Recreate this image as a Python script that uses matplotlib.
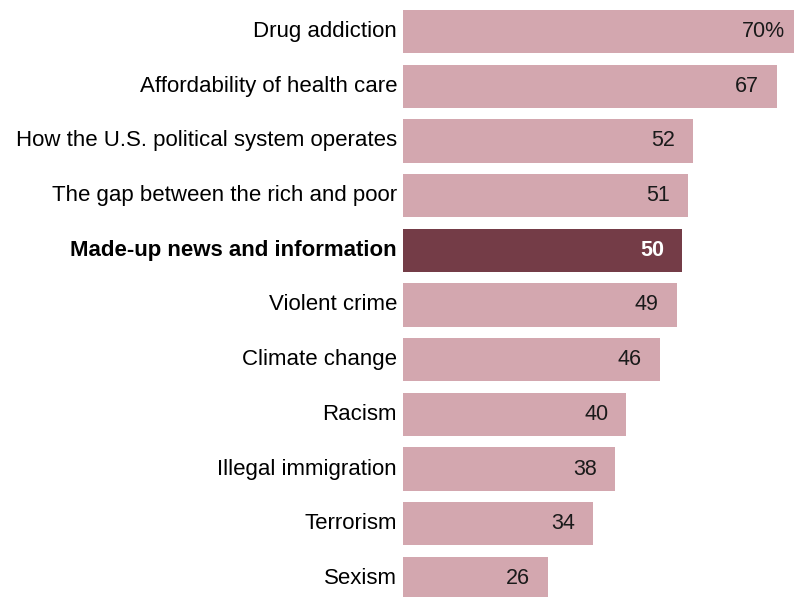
import matplotlib.pyplot as plt

categories = ['Drug addiction', 'Affordability of health care',
              'How the U.S. political system operates',
              'The gap between the rich and poor',
              'Made-up news and information', 'Violent crime',
              'Climate change', 'Racism', 'Illegal immigration',
              'Terrorism', 'Sexism']
values = [70, 67, 52, 51, 50, 49, 46, 40, 38, 34, 26]
highlight = 'Made-up news and information'

light = '#d3a7af'
dark = '#743c47'

plt.rcParams['font.family'] = ['Liberation Sans', 'DejaVu Sans']

fig = plt.figure(figsize=(8, 5.97), dpi=100)
# axes placed so the bars line up with the reference
ax = fig.add_axes([403 / 800, -8.85 / 597, 391 / 800, 601.7 / 597])

ypos = list(range(len(categories)))
colors = [dark if c == highlight else light for c in categories]
ax.barh(ypos, values, height=0.79, color=colors, edgecolor='none')

ax.set_xlim(0, 70)
ax.set_ylim(len(categories) - 0.5, -0.5)
ax.axis('off')

for y, (cat, v) in enumerate(zip(categories, values)):
    bold = cat == highlight
    ax.annotate(cat, xy=(0, y), xytext=(-6, 0), textcoords='offset pixels',
                ha='right', va='center', fontsize=16,
                fontweight='bold' if bold else 'normal', color='black')
    label = f'{v}%' if y == 0 else str(v)
    off = -9 if y == 0 else -18
    ax.annotate(label, xy=(v, y), xytext=(off, 0), textcoords='offset pixels',
                ha='right', va='center', fontsize=15.5,
                fontweight='bold' if bold else 'normal',
                color='white' if bold else '#1a1a1a')

fig.savefig('out.png', dpi=100)
